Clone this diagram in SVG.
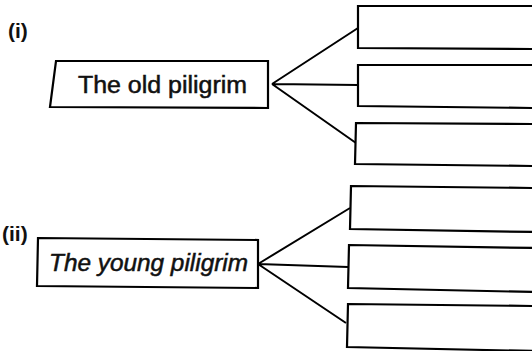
<svg xmlns="http://www.w3.org/2000/svg" width="532" height="351" viewBox="0 0 532 351">
<style>
.b{fill:#fff;stroke:#000;stroke-width:2.2;stroke-linejoin:miter}
.c{stroke:#000;stroke-width:2;fill:none}
.t{font-family:"Liberation Sans",Arial,sans-serif;font-size:23px;fill:#111;stroke:#111;stroke-width:0.5}
.lbl{font-family:"Liberation Sans",Arial,sans-serif;font-size:21px;font-weight:bold;fill:#111}
</style>
<rect width="532" height="351" fill="#fff"/>
<text class="lbl" x="8" y="38">(i)</text>
<text class="lbl" x="2" y="241">(ii)</text>
<g id="connectors">
<path class="c" d="M272 84 L358 28 M272 84 L358 85 M272 84 L356 143"/>
<path class="c" d="M258 264 L350 208 M258 264 L348 267 M258 264 L346 323"/>
</g>
<g id="old"><polygon class="b" points="56,61 268,61 268,108 50,107"/><text class="t" x="78" y="93" textLength="169" lengthAdjust="spacingAndGlyphs">The old piligrim</text></g>
<g id="young"><polygon class="b" points="38,238 258,240 258,288 37,286"/><text class="t" x="49" y="271" font-style="italic" textLength="199" lengthAdjust="spacingAndGlyphs">The young piligrim</text></g>
<g id="a1"><polygon class="b" points="358,6 534,6 534,49 358,48"/></g>
<g id="a2"><polygon class="b" points="358,65 534,65 534,108 358,106"/></g>
<g id="a3"><polygon class="b" points="356,123 534,124 534,166 355,164"/></g>
<g id="b1"><polygon class="b" points="351,186 534,188 534,232 350,229"/></g>
<g id="b2"><polygon class="b" points="349,245 534,248 534,292 348,288"/></g>
<g id="b3"><polygon class="b" points="348,304 534,306 534,351 347,347"/></g>
</svg>
